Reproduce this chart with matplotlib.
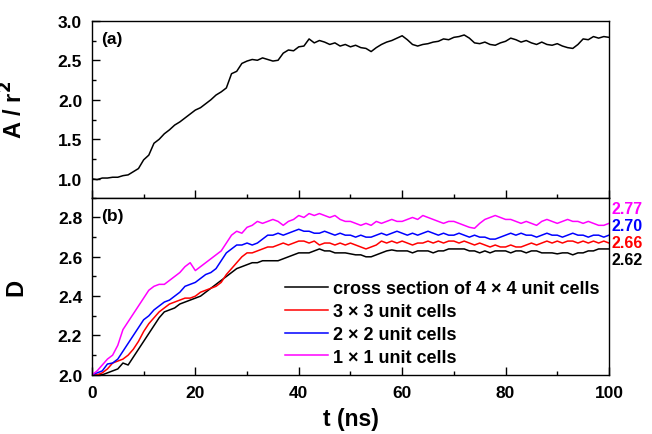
import numpy as np
import matplotlib
matplotlib.use("Agg")
import matplotlib.pyplot as plt
from matplotlib.ticker import MultipleLocator, FormatStrFormatter
from matplotlib.transforms import blended_transform_factory

plt.rcParams['font.family'] = ['Liberation Sans', 'DejaVu Sans']
plt.rcParams['font.weight'] = 'bold'
plt.rcParams['mathtext.default'] = 'bf'

t = list(range(0, 101))

area_ratio = [
    1.00, 0.99, 1.01, 1.01, 1.02, 1.02, 1.04, 1.05, 1.09, 1.13, 1.24,
    1.30, 1.45, 1.50, 1.57, 1.62, 1.68, 1.72, 1.77, 1.82, 1.87,
    1.90, 1.95, 2.00, 2.06, 2.10, 2.15, 2.33, 2.36, 2.46, 2.49,
    2.51, 2.50, 2.53, 2.51, 2.49, 2.50, 2.59, 2.63, 2.62, 2.67,
    2.68, 2.77, 2.72, 2.75, 2.73, 2.70, 2.72, 2.68, 2.70, 2.67,
    2.69, 2.66, 2.65, 2.61, 2.66, 2.70, 2.73, 2.75, 2.78, 2.81,
    2.76, 2.70, 2.68, 2.70, 2.71, 2.73, 2.74, 2.77, 2.76, 2.79,
    2.80, 2.82, 2.78, 2.72, 2.71, 2.73, 2.70, 2.69, 2.72, 2.74,
    2.78, 2.76, 2.73, 2.75, 2.72, 2.70, 2.73, 2.70, 2.69, 2.71,
    2.68, 2.66, 2.65, 2.70, 2.77, 2.76, 2.80, 2.78, 2.80, 2.79,
]

d_4x4 = [
    2.00, 2.00, 2.00, 2.01, 2.02, 2.03, 2.06, 2.05, 2.09, 2.13, 2.17,
    2.21, 2.25, 2.29, 2.32, 2.33, 2.34, 2.36, 2.37, 2.38, 2.39,
    2.40, 2.42, 2.44, 2.46, 2.48, 2.50, 2.52, 2.54, 2.55, 2.56,
    2.57, 2.57, 2.58, 2.58, 2.58, 2.58, 2.59, 2.60, 2.61, 2.62,
    2.62, 2.62, 2.63, 2.64, 2.63, 2.63, 2.62, 2.62, 2.62, 2.615,
    2.61, 2.61, 2.60, 2.60, 2.61, 2.62, 2.63, 2.635, 2.63, 2.63,
    2.63, 2.62, 2.63, 2.63, 2.63, 2.62, 2.63, 2.63, 2.64, 2.64,
    2.64, 2.64, 2.63, 2.63, 2.62, 2.63, 2.62, 2.63, 2.63, 2.63,
    2.62, 2.63, 2.63, 2.62, 2.63, 2.63, 2.62, 2.62, 2.62, 2.615,
    2.62, 2.62, 2.61, 2.62, 2.62, 2.63, 2.63, 2.64, 2.64, 2.64,
]

d_3x3 = [
    2.00, 2.00, 2.01, 2.03, 2.06, 2.07, 2.08, 2.10, 2.13, 2.17, 2.22,
    2.26, 2.29, 2.32, 2.34, 2.36, 2.37, 2.38, 2.39, 2.39, 2.40,
    2.42, 2.43, 2.44, 2.45, 2.47, 2.51, 2.54, 2.57, 2.60, 2.62,
    2.62, 2.63, 2.64, 2.65, 2.65, 2.66, 2.67, 2.66, 2.67, 2.68,
    2.68, 2.67, 2.68, 2.66, 2.67, 2.67, 2.66, 2.67, 2.66, 2.67,
    2.66, 2.65, 2.64, 2.65, 2.66, 2.68, 2.67, 2.68, 2.67, 2.68,
    2.67, 2.66, 2.67, 2.67, 2.68, 2.67, 2.68, 2.67, 2.68, 2.68,
    2.67, 2.68, 2.67, 2.66, 2.67, 2.66, 2.65, 2.66, 2.65, 2.65,
    2.66, 2.65, 2.65, 2.66, 2.67, 2.66, 2.67, 2.68, 2.67, 2.68,
    2.67, 2.68, 2.68, 2.67, 2.68, 2.67, 2.68, 2.67, 2.68, 2.67,
]

d_2x2 = [
    2.00, 2.01, 2.02, 2.055, 2.06, 2.08, 2.12, 2.16, 2.20, 2.24, 2.28,
    2.30, 2.33, 2.35, 2.37, 2.38, 2.40, 2.42, 2.45, 2.46, 2.47,
    2.49, 2.51, 2.52, 2.54, 2.58, 2.62, 2.64, 2.66, 2.66, 2.67,
    2.66, 2.67, 2.69, 2.71, 2.71, 2.72, 2.71, 2.72, 2.73, 2.74,
    2.73, 2.73, 2.72, 2.72, 2.73, 2.72, 2.71, 2.72, 2.71, 2.71,
    2.70, 2.71, 2.70, 2.70, 2.71, 2.72, 2.71, 2.72, 2.73, 2.72,
    2.71, 2.72, 2.71, 2.72, 2.73, 2.72, 2.71, 2.72, 2.71, 2.71,
    2.72, 2.71, 2.70, 2.71, 2.70, 2.70, 2.69, 2.69, 2.70, 2.71,
    2.72, 2.71, 2.72, 2.71, 2.71, 2.70, 2.71, 2.72, 2.71, 2.71,
    2.70, 2.71, 2.72, 2.71, 2.71, 2.70, 2.71, 2.71, 2.70, 2.71,
]

d_1x1 = [
    2.00, 2.02, 2.05, 2.08, 2.10, 2.15, 2.23, 2.27, 2.31, 2.35, 2.39,
    2.43, 2.45, 2.46, 2.46, 2.48, 2.50, 2.52, 2.55, 2.57, 2.53,
    2.55, 2.57, 2.59, 2.61, 2.63, 2.67, 2.71, 2.73, 2.72, 2.75,
    2.76, 2.78, 2.77, 2.78, 2.79, 2.78, 2.76, 2.78, 2.79, 2.81,
    2.80, 2.82, 2.81, 2.82, 2.81, 2.80, 2.81, 2.79, 2.78, 2.78,
    2.77, 2.76, 2.77, 2.76, 2.78, 2.77, 2.78, 2.79, 2.78, 2.78,
    2.79, 2.80, 2.79, 2.81, 2.80, 2.79, 2.78, 2.77, 2.78, 2.78,
    2.77, 2.76, 2.75, 2.745, 2.77, 2.79, 2.80, 2.81, 2.80, 2.79,
    2.79, 2.78, 2.77, 2.78, 2.77, 2.76, 2.78, 2.79, 2.78, 2.77,
    2.78, 2.79, 2.78, 2.78, 2.77, 2.78, 2.77, 2.76, 2.76, 2.77,
]

series_labels = ["cross section of 4 \u00d7 4 unit cells", "3 \u00d7 3 unit cells",
                 "2 \u00d7 2 unit cells", "1 \u00d7 1 unit cells"]
series_colors = ["black", "#ff0000", "#0000ff", "#ff00ff"]
end_labels = ["2.62", "2.66", "2.70", "2.77"]
end_label_pos = [2.585, 2.672, 2.76, 2.848]

fig = plt.figure(figsize=(6.52, 4.35), dpi=100)
ax1 = fig.add_axes([0.141, 0.543, 0.793, 0.407])
ax2 = fig.add_axes([0.141, 0.136, 0.793, 0.407], sharex=ax1)

ax1.plot(t, area_ratio, color='black', lw=1.1)
for y, c, lab in zip([d_4x4, d_3x3, d_2x2, d_1x1], series_colors, series_labels):
    ax2.plot(t, y, color=c, lw=1.1, label=lab)

ax1.set_xlim(0, 100)
ax1.set_ylim(0.76, 3.0)
ax2.set_ylim(2.0, 2.9)

ax1.yaxis.set_major_locator(MultipleLocator(0.5))
ax1.yaxis.set_minor_locator(MultipleLocator(0.25))
ax1.yaxis.set_major_formatter(FormatStrFormatter('%.1f'))
ax2.yaxis.set_major_locator(MultipleLocator(0.2))
ax2.yaxis.set_minor_locator(MultipleLocator(0.1))
ax2.yaxis.set_major_formatter(FormatStrFormatter('%.1f'))
ax2.xaxis.set_major_locator(MultipleLocator(20))
ax2.xaxis.set_minor_locator(MultipleLocator(10))

for ax in (ax1, ax2):
    ax.tick_params(which='both', direction='in', top=False, right=False, labelsize=12.5, pad=7)
    ax.tick_params(which='major', length=6, width=1)
    ax.tick_params(which='minor', length=3, width=1)
    for sp in ax.spines.values():
        sp.set_linewidth(1.0)
    for lbl in ax.get_xticklabels() + ax.get_yticklabels():
        lbl.set_fontweight('bold')
ax1.tick_params(labelbottom=False)

ax1.set_ylabel(r'A / r$^{2}$', fontsize=17, fontweight='bold')
ax2.set_ylabel('D', fontsize=17, fontweight='bold')
ax2.set_xlabel('t (ns)', fontsize=16.5, fontweight='bold', labelpad=5)
ax1.yaxis.set_label_coords(-0.125, 0.5)
ax2.yaxis.set_label_coords(-0.125, 0.5)

ax1.text(0.018, 0.94, '(a)', transform=ax1.transAxes, fontsize=12.5, fontweight='bold', va='top')
ax2.text(0.018, 0.94, '(b)', transform=ax2.transAxes, fontsize=12.5, fontweight='bold', va='top')

trans = blended_transform_factory(ax2.transAxes, ax2.transData)
for lab, yp, c in zip(end_labels, end_label_pos, series_colors):
    ax2.text(1.004, yp, lab, transform=trans, color=c, fontsize=11.5,
             fontweight='bold', va='center', ha='left', clip_on=False)

leg = ax2.legend(loc='lower right', frameon=False, fontsize=13, handlelength=2.4,
                 handletextpad=0.3, labelspacing=0.32, borderaxespad=0.1,
                 bbox_to_anchor=(1.0, 0.0))
for txt in leg.get_texts():
    txt.set_fontweight('bold')

fig.savefig('out.png', dpi=100)
